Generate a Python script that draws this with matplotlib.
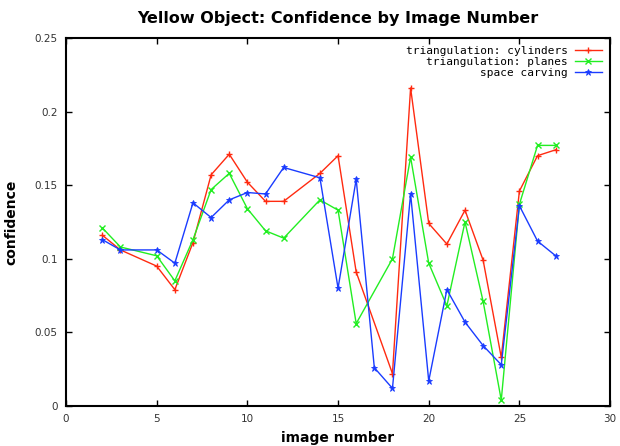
import matplotlib
matplotlib.use('Agg')
import matplotlib.pyplot as plt
from matplotlib.ticker import FuncFormatter

# image numbers (17 only exists for space carving)
x_tri = [2, 3, 5, 6, 7, 8, 9, 10, 11, 12, 14, 15, 16, 18, 19, 20, 21, 22, 23, 24, 25, 26, 27]
x_sc = [2, 3, 5, 6, 7, 8, 9, 10, 11, 12, 14, 15, 16, 17, 18, 19, 20, 21, 22, 23, 24, 25, 26, 27]

cylinders = [0.116, 0.106, 0.095, 0.079, 0.111, 0.157, 0.171, 0.152, 0.139, 0.139, 0.158, 0.170,
             0.091, 0.022, 0.216, 0.124, 0.110, 0.133, 0.099, 0.033, 0.146, 0.170, 0.174]
planes = [0.121, 0.108, 0.102, 0.085, 0.113, 0.147, 0.158, 0.134, 0.119, 0.114, 0.140, 0.133,
          0.056, 0.100, 0.169, 0.097, 0.068, 0.125, 0.071, 0.004, 0.137, 0.177, 0.177]
carving = [0.113, 0.106, 0.106, 0.097, 0.138, 0.128, 0.140, 0.145, 0.144, 0.162, 0.155, 0.080,
           0.154, 0.026, 0.012, 0.144, 0.017, 0.079, 0.057, 0.041, 0.028, 0.136, 0.112, 0.102]

labels = ['triangulation: cylinders', 'triangulation: planes', 'space carving']
colors = ['#ff2a10', '#22ee22', '#1a3cff']

fig = plt.figure(figsize=(6.2, 4.46), dpi=100, facecolor='white')
ax = fig.add_axes([0.1065, 0.0897, 0.8775, 0.8253])

ax.plot(x_tri, cylinders, color=colors[0], lw=1, marker='+', ms=5, mew=1, label=labels[0])
ax.plot(x_tri, planes, color=colors[1], lw=1, marker='x', ms=4, mew=1, label=labels[1])
ax.plot(x_sc, carving, color=colors[2], lw=1, marker='*', ms=5, mew=0.6, label=labels[2])

ax.set_xlim(0, 30)
ax.set_ylim(0, 0.25)
ax.set_xticks([0, 5, 10, 15, 20, 25, 30])
ax.set_yticks([0, 0.05, 0.1, 0.15, 0.2, 0.25])
ax.yaxis.set_major_formatter(FuncFormatter(lambda v, p: '0' if v == 0 else ('%g' % round(v, 2))))
ax.tick_params(direction='in', top=True, right=True, length=4, width=1, labelsize=7.5,
               labelcolor='#333333', pad=6)
for s in ax.spines.values():
    s.set_linewidth(1.5)

ax.set_title('Yellow Object: Confidence by Image Number', fontsize=11.5, fontweight='bold', pad=11)
ax.set_xlabel('image number', fontsize=10, fontweight='bold', labelpad=5)
ax.set_ylabel('confidence', fontsize=10, fontweight='bold', labelpad=12)

ax.legend(loc='upper right', frameon=False, markerfirst=False, handlelength=2.5,
          prop={'family': 'DejaVu Sans Mono', 'size': 8}, labelspacing=0.1,
          borderaxespad=0.3, handletextpad=0.6)

fig.savefig('out.png', dpi=100)
